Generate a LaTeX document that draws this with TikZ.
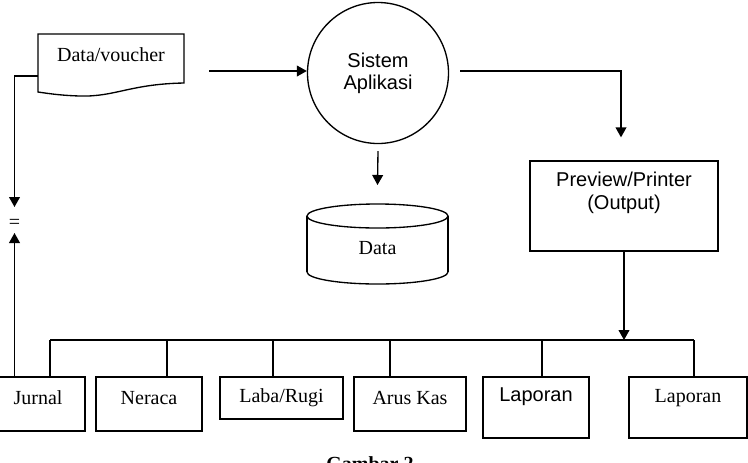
\documentclass[tikz,border=0pt]{standalone}
\usepackage{fontspec}
\setmainfont{Liberation Serif}
\setsansfont{Liberation Sans}
\usetikzlibrary{arrows.meta,calc}
\begin{document}
\begin{tikzpicture}[x=0.6pt,y=-0.6pt,
  line width=0.8pt,
  serif/.style={font=\fontsize{12}{14}\selectfont, inner sep=0pt},
  sans/.style={font=\fontsize{12}{14}\selectfont\sffamily, inner sep=0pt, align=center},
  box/.style={draw, inner sep=0pt},
  arr/.style={-{Triangle[length=6pt,width=6.5pt]}}]
\useasboundingbox (0,0) rectangle (748,462);
\clip (0,0) rectangle (748,462);

% document shape
\draw (38,34) -- (184,34) -- (184,83)
  .. controls (130,84) and (115,97) .. (80,96)
  .. controls (60,95.5) and (45,93) .. (38,92) -- cycle;
\node[serif] (doc) at (111,55) {Data/voucher};
\coordinate (docL) at (38,76);
\coordinate (docOut) at (209,71);

% process circle
\node[circle, draw, minimum size=84.6pt, inner sep=0pt, sans] (sys) at (378,73) {Sistem\\[-1pt]Aplikasi};

% data store cylinder
\draw (307,216) -- (307,272);
\draw (448,216) -- (448,272);
\draw (377.5,216) ellipse [x radius=42.3pt, y radius=7.2pt];
\draw (307,272) arc [start angle=180, end angle=360, x radius=42.3pt, y radius=7.2pt];
\node[serif] (data) at (377.5,248) {Data};
\coordinate (cylTop) at (377.5,204);

% preview box
\node[box, minimum width=112.8pt, minimum height=54pt] (prev) at (624,206) {};
\node[sans] (prevtext) at (624,193) {Preview/Printer\\(Output)};

% equals
\node[serif] (eq) at (14.5,224) {=};

% bottom boxes
\node[box, minimum width=52.2pt, minimum height=32.4pt] (jur) at (41.5,404) {};
\node[serif] at (38,398) {Jurnal};
\node[box, minimum width=63.6pt, minimum height=32.4pt] (ner) at (149,404) {};
\node[serif] at (149,398) {Neraca};
\node[box, minimum width=73.8pt, minimum height=25.2pt] (lab) at (281.5,398) {};
\node[serif] at (281.5,398) {Laba/Rugi};
\node[box, minimum width=67.2pt, minimum height=32.4pt] (arus) at (410,404) {};
\node[serif] at (410,398) {Arus Kas};
\node[box, minimum width=63.6pt, minimum height=36.6pt] (lap1) at (536,407.5) {};
\node[sans] at (536,397) {Laporan};
\node[box, minimum width=70.8pt, minimum height=36.6pt] (lap2) at (688,407.5) {};
\node[serif] at (688,398) {Laporan};

% bus
\coordinate (b1) at (50,340);
\coordinate (b2) at (167,340);
\coordinate (b3) at (273,340);
\coordinate (b4) at (390,340);
\coordinate (b5) at (542,340);
\coordinate (b6) at (694,340);
\draw (b1) -- (b6);
\draw (b1) -- (b1 |- jur.north);
\draw (b2) -- (b2 |- ner.north);
\draw (b3) -- (b3 |- lab.north);
\draw (b4) -- (b4 |- arus.north);
\draw (b5) -- (b5 |- lap1.north);
\draw (b6) -- (b6 |- lap2.north);

% connectors
\draw[arr] (docOut) -- (docOut -| sys.west);
\coordinate (sysOut) at (460,71);
\draw[arr] (sysOut) -| ($(prev.north)+(-3,-23)$);
\draw[arr] ($(sys.south)+(0,7)$) -- ($(cylTop)+(0,-19)$);
\draw[arr] ($(prev.south)+(0,0)$) -- (prev.south |- b1);
\draw[arr] (docL) -| ($(eq)+(0,-17)$);
\draw[arr] (jur.north -| eq) -- ($(eq)+(0,9)$);

% caption
\node[serif, font=\fontsize{12}{14}\selectfont\bfseries, anchor=base] (cap) at (370,470) {Gambar 2};
\end{tikzpicture}
\end{document}
